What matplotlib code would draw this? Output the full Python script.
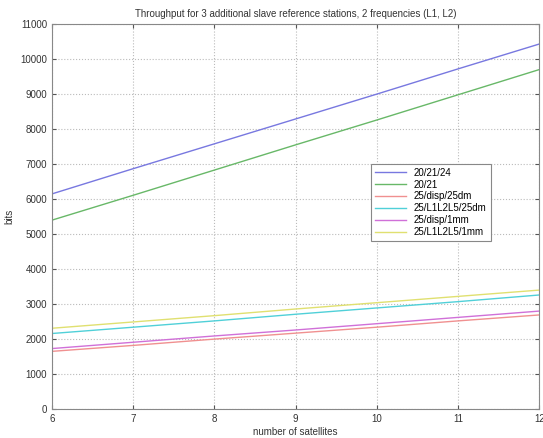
import matplotlib.pyplot as plt

# number of satellites
sats = [6, 7, 8, 9, 10, 11, 12]

# throughput in bits
b_20_21_24 = [6150, 6870, 7580, 8290, 9000, 9720, 10430]
b_20_21 = [5400, 6110, 6830, 7550, 8260, 8980, 9700]
b_25_disp_25dm = [1650, 1820, 2000, 2170, 2340, 2520, 2690]
b_25_l1l2l5_25dm = [2160, 2340, 2520, 2710, 2890, 3070, 3260]
b_25_disp_1mm = [1730, 1910, 2090, 2260, 2440, 2620, 2800]
b_25_l1l2l5_1mm = [2310, 2490, 2670, 2860, 3040, 3220, 3400]

labels = ["20/21/24", "20/21", "25/disp/25dm", "25/L1L2L5/25dm",
          "25/disp/1mm", "25/L1L2L5/1mm"]
series = [b_20_21_24, b_20_21, b_25_disp_25dm, b_25_l1l2l5_25dm,
          b_25_disp_1mm, b_25_l1l2l5_1mm]
cores = ["#7878e0", "#68b868", "#f09090", "#50d0d8", "#d070d8", "#e0e070"]

plt.rcParams.update({
    "font.family": "Liberation Sans",
    "font.size": 7,
    "axes.edgecolor": "#888888",
    "xtick.color": "#555555",
    "ytick.color": "#555555",
    "xtick.labelcolor": "#333333",
    "ytick.labelcolor": "#333333",
})

fig = plt.figure(figsize=(5.43, 4.38), dpi=100)
ax = fig.add_axes([0.096, 0.066, 0.897, 0.879])

for y, lab, cor in zip(series, labels, cores):
    ax.plot(sats, y, color=cor, linewidth=1, label=lab)

ax.set_xlim(6, 12)
ax.set_ylim(0, 11000)
ax.set_xticks(range(6, 13))
ax.set_yticks(range(0, 11001, 1000))
ax.tick_params(direction="in", top=True, right=True, length=3, labelsize=7)
ax.grid(True, linestyle=":", color="#bbbbbb", linewidth=0.8)

ax.set_title("Throughput for 3 additional slave reference stations, 2 frequencies (L1, L2)",
             fontsize=7, color="#333333", pad=5)
ax.set_xlabel("number of satellites", fontsize=7, color="#333333", labelpad=2)
ax.set_ylabel("bits", fontsize=7, color="#333333")

leg = ax.legend(loc="upper left", bbox_to_anchor=(0.645, 0.65), fontsize=7,
                fancybox=False, framealpha=1, edgecolor="#888888",
                handlelength=3.2, borderpad=0.4, labelspacing=0.2)
leg.get_frame().set_linewidth(0.8)

fig.savefig("out.png", dpi=100)
